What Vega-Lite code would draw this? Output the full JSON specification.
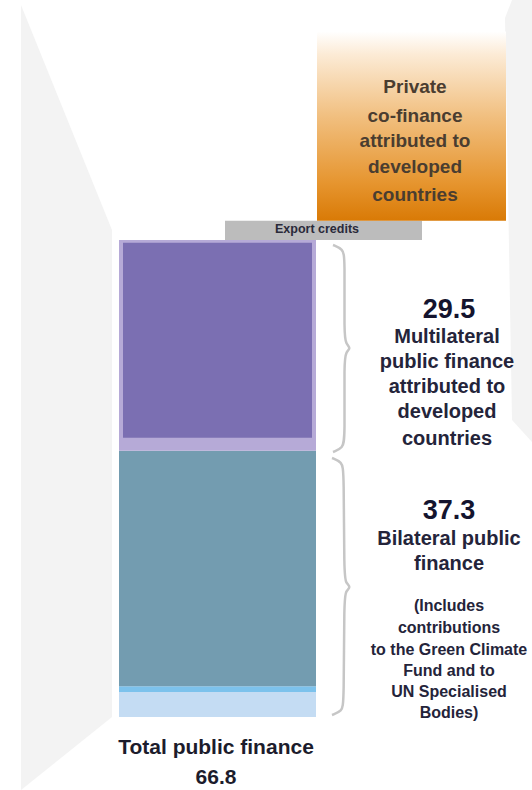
{
  "$schema": "https://vega.github.io/schema/vega-lite/v6.json",
  "width": 532,
  "height": 790,
  "padding": 0,
  "autosize": {"type": "none"},
  "background": "#ffffff",
  "config": {"view": {"stroke": null}, "axis": {"domain": false, "grid": false, "ticks": false, "labels": false, "title": null}},
  "datasets": {
    "wallLeft": [
      {"px": 2.1, "top": 99.7, "bottom": -10.22},
      {"px": 11.2, "top": 68.2, "bottom": 0}
    ],
    "wallRight": [
      {"px": 50.5, "top": 97.9, "bottom": 97.9},
      {"px": 51.2, "top": 100.41, "bottom": 41.6},
      {"px": 53.2, "top": 100.41, "bottom": 38.5}
    ],
    "segments": [
      {"segment": "Other bilateral", "from": 11.9, "to": 31.6, "lo": 0, "hi": 3.5},
      {"segment": "UN specialised bodies", "from": 11.9, "to": 31.6, "lo": 3.5, "hi": 4.3},
      {"segment": "Bilateral public finance", "from": 11.9, "to": 31.6, "lo": 4.3, "hi": 37.3},
      {"segment": "Multilateral outflows", "from": 11.9, "to": 31.6, "lo": 37.3, "hi": 66.8},
      {"segment": "Multilateral public finance", "from": 12.3, "to": 31.2, "lo": 39.1, "hi": 66.4},
      {"segment": "Export credits", "from": 22.5, "to": 42.2, "lo": 66.8, "hi": 69.5}
    ],
    "private": [
      {"segment": "Private co-finance", "from": 31.7, "to": 50.6, "lo": 69.5, "hi": 96.0}
    ],
    "braces": [
      {"brace": "multilateral", "i": 1, "bx": 33.3, "by": 66.10},
      {"brace": "multilateral", "i": 2, "bx": 34.3, "by": 65.54},
      {"brace": "multilateral", "i": 3, "bx": 34.5, "by": 64.28},
      {"brace": "multilateral", "i": 4, "bx": 34.4, "by": 53.50},
      {"brace": "multilateral", "i": 5, "bx": 34.6, "by": 52.24},
      {"brace": "multilateral", "i": 6, "bx": 35.1, "by": 51.68},
      {"brace": "multilateral", "i": 7, "bx": 34.6, "by": 51.12},
      {"brace": "multilateral", "i": 8, "bx": 34.4, "by": 49.86},
      {"brace": "multilateral", "i": 9, "bx": 34.5, "by": 39.07},
      {"brace": "multilateral", "i": 10, "bx": 34.3, "by": 37.67},
      {"brace": "multilateral", "i": 11, "bx": 33.3, "by": 37.11},
      {"brace": "bilateral", "i": 1, "bx": 33.2, "by": 36.27},
      {"brace": "bilateral", "i": 2, "bx": 34.2, "by": 35.71},
      {"brace": "bilateral", "i": 3, "bx": 34.4, "by": 34.45},
      {"brace": "bilateral", "i": 4, "bx": 34.4, "by": 19.75},
      {"brace": "bilateral", "i": 5, "bx": 34.6, "by": 18.77},
      {"brace": "bilateral", "i": 6, "bx": 35.1, "by": 18.21},
      {"brace": "bilateral", "i": 7, "bx": 34.6, "by": 17.65},
      {"brace": "bilateral", "i": 8, "bx": 34.4, "by": 16.67},
      {"brace": "bilateral", "i": 9, "bx": 34.4, "by": 1.96},
      {"brace": "bilateral", "i": 10, "bx": 34.2, "by": 0.84},
      {"brace": "bilateral", "i": 11, "bx": 33.2, "by": 0.28}
    ],
    "labels": [
      {"kind": "number", "label": "29.5", "lx": 44.9, "ly": 57.0},
      {"kind": "body", "label": "Multilateral", "lx": 44.7, "ly": 53.2},
      {"kind": "body", "label": "public finance", "lx": 44.7, "ly": 49.7},
      {"kind": "body", "label": "attributed to", "lx": 44.7, "ly": 46.2},
      {"kind": "body", "label": "developed", "lx": 44.7, "ly": 42.7},
      {"kind": "body", "label": "countries", "lx": 44.7, "ly": 38.9},
      {"kind": "number", "label": "37.3", "lx": 44.9, "ly": 28.85},
      {"kind": "body", "label": "Bilateral public", "lx": 44.9, "ly": 24.93},
      {"kind": "body", "label": "finance", "lx": 44.9, "ly": 21.43},
      {"kind": "note", "label": "(Includes", "lx": 44.9, "ly": 15.54},
      {"kind": "note", "label": "contributions", "lx": 44.9, "ly": 12.46},
      {"kind": "note", "label": "to the Green Climate", "lx": 44.9, "ly": 9.38},
      {"kind": "note", "label": "Fund and to", "lx": 44.9, "ly": 6.44},
      {"kind": "note", "label": "UN Specialised", "lx": 44.9, "ly": 3.5},
      {"kind": "note", "label": "Bodies)", "lx": 44.9, "ly": 0.56},
      {"kind": "private", "label": "Private", "lx": 41.5, "ly": 88.2},
      {"kind": "private", "label": "co-finance", "lx": 41.5, "ly": 84.17},
      {"kind": "private", "label": "attributed to", "lx": 41.5, "ly": 80.66},
      {"kind": "private", "label": "developed", "lx": 41.5, "ly": 77.02},
      {"kind": "private", "label": "countries", "lx": 41.5, "ly": 73.1},
      {"kind": "export", "label": "Export credits", "lx": 31.7, "ly": 68.3},
      {"kind": "total", "label": "Total public finance", "lx": 21.6, "ly": -4.34},
      {"kind": "total", "label": "66.8", "lx": 21.6, "ly": -8.5}
    ]
  },
  "layer": [
    {
      "data": {"name": "wallLeft"},
      "mark": {"type": "area", "color": "#f3f3f3", "orient": "vertical"},
      "encoding": {
        "x": {"field": "px", "type": "quantitative", "scale": {"domain": [0, 53.2], "nice": false, "zero": false}, "axis": null},
        "y": {"field": "top", "type": "quantitative", "scale": {"domain": [-10.22, 100.41], "nice": false, "zero": false}, "axis": null},
        "y2": {"field": "bottom"}
      }
    },
    {
      "data": {"name": "wallRight"},
      "mark": {"type": "area", "color": "#f3f3f3", "orient": "vertical"},
      "encoding": {
        "x": {"field": "px", "type": "quantitative", "scale": {"domain": [0, 53.2], "nice": false, "zero": false}, "axis": null},
        "y": {"field": "top", "type": "quantitative", "scale": {"domain": [-10.22, 100.41], "nice": false, "zero": false}, "axis": null},
        "y2": {"field": "bottom"}
      }
    },
    {
      "data": {"name": "segments"},
      "mark": {"type": "rect"},
      "encoding": {
        "x": {"field": "from", "type": "quantitative", "scale": {"domain": [0, 53.2], "nice": false, "zero": false}, "axis": null},
        "x2": {"field": "to"},
        "y": {"field": "lo", "type": "quantitative", "scale": {"domain": [-10.22, 100.41], "nice": false, "zero": false}, "axis": null},
        "y2": {"field": "hi"},
        "color": {
          "field": "segment", "type": "nominal", "legend": null,
          "scale": {
            "domain": ["Other bilateral", "UN specialised bodies", "Bilateral public finance", "Multilateral outflows", "Multilateral public finance", "Export credits"],
            "range": ["#c4dcf3", "#7cc2ec", "#739cb0", "#b6aad7", "#7b6fb2", "#bcbcbc"]
          }
        }
      }
    },
    {
      "data": {"name": "private"},
      "mark": {
        "type": "rect",
        "color": {
          "gradient": "linear", "x1": 0, "y1": 0, "x2": 0, "y2": 1,
          "stops": [
            {"offset": 0, "color": "#ffffff"},
            {"offset": 0.12, "color": "#fcebd6"},
            {"offset": 0.45, "color": "#f1bf7f"},
            {"offset": 0.8, "color": "#e6952f"},
            {"offset": 1, "color": "#d97a06"}
          ]
        }
      },
      "encoding": {
        "x": {"field": "from", "type": "quantitative", "scale": {"domain": [0, 53.2], "nice": false, "zero": false}, "axis": null},
        "x2": {"field": "to"},
        "y": {"field": "lo", "type": "quantitative", "scale": {"domain": [-10.22, 100.41], "nice": false, "zero": false}, "axis": null},
        "y2": {"field": "hi"}
      }
    },
    {
      "data": {"name": "braces"},
      "mark": {"type": "line", "color": "#c6c6c6", "strokeWidth": 2.5, "interpolate": "basis"},
      "encoding": {
        "x": {"field": "bx", "type": "quantitative", "scale": {"domain": [0, 53.2], "nice": false, "zero": false}, "axis": null},
        "y": {"field": "by", "type": "quantitative", "scale": {"domain": [-10.22, 100.41], "nice": false, "zero": false}, "axis": null},
        "detail": {"field": "brace", "type": "nominal"},
        "order": {"field": "i", "type": "quantitative"}
      }
    },
    {
      "data": {"name": "labels"},
      "transform": [{"filter": "datum.kind === 'number'"}],
      "mark": {"type": "text", "font": "Liberation Sans", "fontWeight": "bold", "fontSize": 27, "color": "#14142e", "align": "center", "baseline": "middle"},
      "encoding": {
        "x": {"field": "lx", "type": "quantitative", "scale": {"domain": [0, 53.2], "nice": false, "zero": false}, "axis": null},
        "y": {"field": "ly", "type": "quantitative", "scale": {"domain": [-10.22, 100.41], "nice": false, "zero": false}, "axis": null},
        "text": {"field": "label", "type": "nominal"}
      }
    },
    {
      "data": {"name": "labels"},
      "transform": [{"filter": "datum.kind === 'body'"}],
      "mark": {"type": "text", "font": "Liberation Sans", "fontWeight": "bold", "fontSize": 20, "color": "#24243a", "align": "center", "baseline": "middle"},
      "encoding": {
        "x": {"field": "lx", "type": "quantitative", "scale": {"domain": [0, 53.2], "nice": false, "zero": false}, "axis": null},
        "y": {"field": "ly", "type": "quantitative", "scale": {"domain": [-10.22, 100.41], "nice": false, "zero": false}, "axis": null},
        "text": {"field": "label", "type": "nominal"}
      }
    },
    {
      "data": {"name": "labels"},
      "transform": [{"filter": "datum.kind === 'note'"}],
      "mark": {"type": "text", "font": "Liberation Sans", "fontWeight": "bold", "fontSize": 16, "color": "#24243a", "align": "center", "baseline": "middle"},
      "encoding": {
        "x": {"field": "lx", "type": "quantitative", "scale": {"domain": [0, 53.2], "nice": false, "zero": false}, "axis": null},
        "y": {"field": "ly", "type": "quantitative", "scale": {"domain": [-10.22, 100.41], "nice": false, "zero": false}, "axis": null},
        "text": {"field": "label", "type": "nominal"}
      }
    },
    {
      "data": {"name": "labels"},
      "transform": [{"filter": "datum.kind === 'private'"}],
      "mark": {"type": "text", "font": "Liberation Sans", "fontWeight": "bold", "fontSize": 19, "color": "#4a3d30", "align": "center", "baseline": "middle"},
      "encoding": {
        "x": {"field": "lx", "type": "quantitative", "scale": {"domain": [0, 53.2], "nice": false, "zero": false}, "axis": null},
        "y": {"field": "ly", "type": "quantitative", "scale": {"domain": [-10.22, 100.41], "nice": false, "zero": false}, "axis": null},
        "text": {"field": "label", "type": "nominal"}
      }
    },
    {
      "data": {"name": "labels"},
      "transform": [{"filter": "datum.kind === 'export'"}],
      "mark": {"type": "text", "font": "Liberation Sans", "fontWeight": "bold", "fontSize": 12.5, "color": "#2a2a3a", "align": "center", "baseline": "middle"},
      "encoding": {
        "x": {"field": "lx", "type": "quantitative", "scale": {"domain": [0, 53.2], "nice": false, "zero": false}, "axis": null},
        "y": {"field": "ly", "type": "quantitative", "scale": {"domain": [-10.22, 100.41], "nice": false, "zero": false}, "axis": null},
        "text": {"field": "label", "type": "nominal"}
      }
    },
    {
      "data": {"name": "labels"},
      "transform": [{"filter": "datum.kind === 'total'"}],
      "mark": {"type": "text", "font": "Liberation Sans", "fontWeight": "bold", "fontSize": 21, "color": "#1c1c2c", "align": "center", "baseline": "middle"},
      "encoding": {
        "x": {"field": "lx", "type": "quantitative", "scale": {"domain": [0, 53.2], "nice": false, "zero": false}, "axis": null},
        "y": {"field": "ly", "type": "quantitative", "scale": {"domain": [-10.22, 100.41], "nice": false, "zero": false}, "axis": null},
        "text": {"field": "label", "type": "nominal"}
      }
    }
  ]
}
